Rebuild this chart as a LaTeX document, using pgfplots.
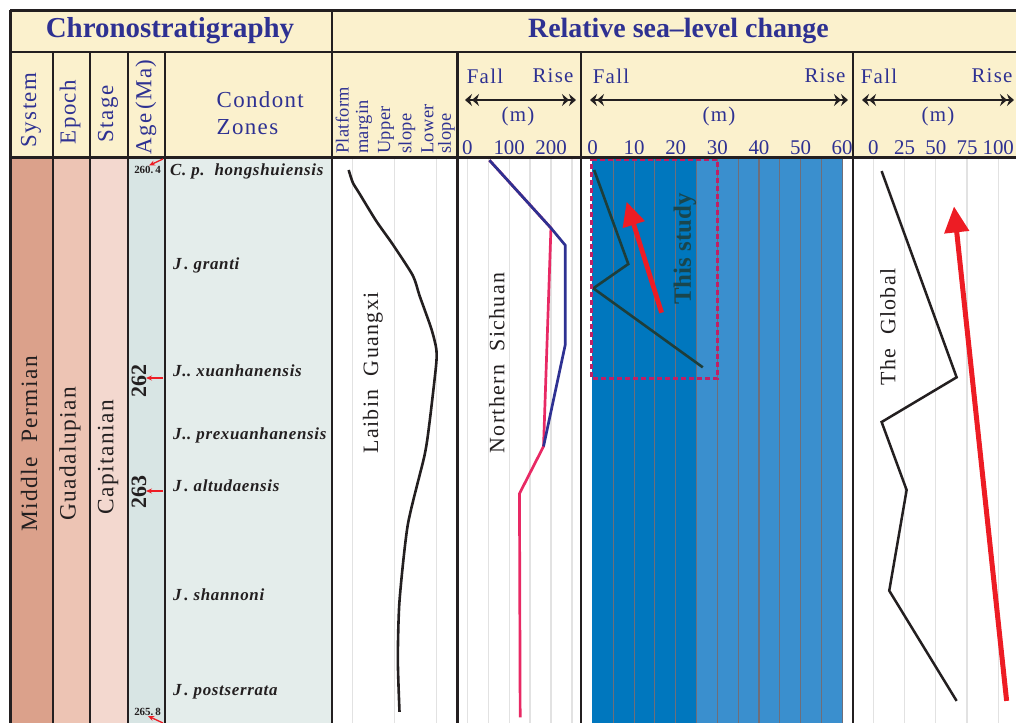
\documentclass[border=0pt]{standalone}
\usepackage{fontspec}
\setmainfont{Liberation Serif}
\newfontfamily\lsf{Liberation Serif}[LetterSpace=6]
\newfontfamily\zf{Liberation Serif}[LetterSpace=4]
\newfontfamily\pf{Liberation Serif}[LetterSpace=2]
\usepackage{pgfplots}
\usepackage{pgfplotstable}
\pgfplotsset{compat=1.18}
\usetikzlibrary{arrows.meta}
\definecolor{hdr}{RGB}{251,241,205}
\definecolor{hblue}{RGB}{46,49,146}
\definecolor{ink}{RGB}{35,31,32}
\definecolor{sysc}{RGB}{219,161,139}
\definecolor{epoc}{RGB}{237,196,180}
\definecolor{stgc}{RGB}{243,216,207}
\definecolor{agec}{RGB}{216,229,228}
\definecolor{zonc}{RGB}{228,237,235}
\definecolor{dblue}{RGB}{0,119,190}
\definecolor{lblue}{RGB}{58,143,206}
\definecolor{gline}{RGB}{110,110,122}
\definecolor{lgrid}{RGB}{226,226,226}
\definecolor{nsred}{RGB}{232,41,100}
\definecolor{nsblue}{RGB}{46,49,146}
\definecolor{arred}{RGB}{237,28,36}
\definecolor{boxc}{RGB}{192,32,100}
\definecolor{studyc}{RGB}{30,62,58}
\newcommand\fs[1]{\fontsize{#1}{#1}\selectfont}

% depth coordinate: 0 = top of the body, 565 = bottom of the picture
\pgfplotstableread{
x y
0.40 12
0.50 24.7
0.66 35.6
1.06 62.9
1.46 86.5
1.94 117.5
2.10 137.5
2.38 170.2
2.50 190.2
2.50 206.5
2.34 264.7
2.22 297.5
1.82 366.5
1.62 442.9
1.58 501
1.62 553.8
}\laibin
\pgfplotstableread{
x y
52.7 2.2
199.7 70
182 288.4
124.5 335.6
126.2 559.3
}\nspink
\pgfplotstableread{
x y
52.7 2.2
199.7 70
234 87.3
234 186.5
182 288.4
}\nsblue
\pgfplotstableread{
x y
0.4 12
8.6 106
0.2 130.3
26.5 209.3
}\study
\pgfplotstableread{
x y
6.7 13.1
66.7 219.3
6.7 264
26.7 332
12.8 432.7
66.7 542.9
}\glob

\pgfplotsset{panel/.style={scale only axis, height=565bp, ymin=0, ymax=565,
  y dir=reverse, ytick=\empty, axis line style={draw=none},
  major tick length=0pt, minor tick length=0pt,
  xticklabel pos=upper, xmajorgrids,
  grid style={lgrid, line width=1.3bp},
  anchor=north west,
  ticklabel style={font=\fs{21}, text=hblue},
  /pgf/number format/assume math mode=true}}
\tikzset{dbl/.style={arrows={Stealth[length=7bp,width=12bp]Stealth[length=7bp,width=12bp]-Stealth[length=7bp,width=12bp]Stealth[length=7bp,width=12bp]}, line width=2bp, ink},
  sma/.style={arred, line width=1.3bp, -{Stealth[length=6bp,width=5bp]}}}

\begin{document}
\begin{tikzpicture}
\useasboundingbox (0,0) rectangle (1016bp,-723bp);
\clip (0,0) rectangle (1016bp,-723bp);
\begin{scope}[x=1bp,y=-1bp]
\fill[hdr] (10,10) rectangle (1016,158);
\fill[sysc] (10,158) rectangle (53,723);
\fill[epoc] (53,158) rectangle (90,723);
\fill[stgc] (90,158) rectangle (128,723);
\fill[agec] (128,158) rectangle (165,723);
\fill[zonc] (165,158) rectangle (332,723);
\end{scope}

% Laibin Guangxi
\begin{axis}[panel, at={(332bp,-158bp)}, width=125bp, xmin=0, xmax=3,
  xtick={0.5,1.5,2.5}, xticklabels={,,}]
\addplot[ink, line width=2.6bp, smooth, tension=0.4] table {\laibin};
\end{axis}

% Northern Sichuan
\begin{axis}[panel, at={(457.5bp,-158bp)}, width=123.5bp, xmin=-23.5, xmax=271.5,
  xtick={0,100,200}, minor xtick={50,150,250}, xminorgrids,
  minor grid style={lgrid, line width=1.3bp}]
\addplot[nsred, line width=2.7bp] table {\nspink};
\addplot[nsblue, line width=2.7bp] table {\nsblue};
\end{axis}

% This study
\begin{axis}[panel, at={(581bp,-158bp)}, width=272bp, xmin=-2.76, xmax=62.6,
  xtick={0,10,...,60}, xmajorgrids=false]
\addplot[fill=dblue, draw=none] coordinates {(0,0.5) (25,0.5) (25,565) (0,565)} -- cycle;
\addplot[fill=lblue, draw=none] coordinates {(25,0.5) (60,0.5) (60,565) (25,565)} -- cycle;
\pgfplotsinvokeforeach{5,10,...,60}{\addplot[gline, line width=1.1bp] coordinates {(#1,0.5) (#1,565)};}
\addplot[studyc, line width=2.6bp] table {\study};
\addplot[boxc, line width=2.4bp, dash pattern=on 5bp off 3bp] coordinates {(-0.2,1.3) (30,1.3) (30,220.3) (-0.2,220.3)} -- cycle;
\addplot[arred, line width=4.8bp, -{Triangle[length=24bp,width=22bp]}] coordinates {(16.6,154.7) (8.2,43.7)};
\node[rotate=90, font=\fs{25}\bfseries, text=studyc, opacity=0.85] at (axis cs:22.2,91) {This study};
\end{axis}

% The Global
\begin{axis}[panel, at={(853bp,-158bp)}, width=163bp, xmin=-16.2, xmax=114.2,
  xtick={0,25,50,75,100}]
\addplot[ink, line width=2.5bp] table {\glob};
\addplot[arred, line width=5bp, -{Triangle[length=26bp,width=24bp]}] coordinates {(106.7,542.9) (64.6,48.4)};
\end{axis}

\begin{scope}[x=1bp,y=-1bp]
% frame lines
\begin{scope}[ink, line width=2.7bp]
\draw (10,10.5) -- (1016,10.5);
\draw (10,52) -- (1016,52);
\draw (10,157.5) -- (1016,157.5);
\draw (10.5,10) -- (10.5,723);
\foreach \x in {53,90,128,165,457.5,581,853} \draw (\x,52) -- (\x,723);
\draw (332,10) -- (332,723);
\end{scope}
% header row 1
\node[font=\fs{29}\bfseries, text=hblue] at (170,31) {Chronostratigraphy};
\node[font=\fs{28}\bfseries, text=hblue] at (678.5,31) {Relative sea--level change};
% header row 2
\begin{scope}[font=\lsf\fs{23}, text=hblue]
\node[rotate=90] at (31,110) {System};
\node[rotate=90] at (70,112) {Epoch};
\node[rotate=90] at (108,114) {Stage};
\node[rotate=90] at (146,107) {Age\,(Ma)};
\node[anchor=west, align=left, inner sep=0pt] at (216.5,113) {Condont\\[4bp]Zones};
\end{scope}
\begin{scope}[font=\pf\fs{18.5}, text=hblue, inner sep=0pt]
\node[rotate=90, anchor=west] at (342.3,154) {Platform};
\node[rotate=90, anchor=west] at (364,154) {margin};
\node[rotate=90, anchor=west] at (386,154) {Upper};
\node[rotate=90, anchor=west] at (407,154) {slope};
\node[rotate=90, anchor=west] at (427.5,154) {Lower};
\node[rotate=90, anchor=west] at (446.5,154) {slope};
\end{scope}
\begin{scope}[font=\lsf\fs{21}, text=hblue]
\node at (485,76) {Fall};
\node at (553,76) {Rise};
\node at (518,116) {(m)};
\node at (611,76) {Fall};
\node at (825,76) {Rise};
\node at (719,116) {(m)};
\node at (879,76) {Fall};
\node at (992,76) {Rise};
\node at (938,116) {(m)};
\end{scope}
\draw[dbl] (465,100) -- (576,100);
\draw[dbl] (590,100) -- (848,100);
\draw[dbl] (862,100) -- (1014,100);
% body column texts
\begin{scope}[font=\lsf\fs{23.5}, text=ink]
\node[rotate=90] at (29,444) {Middle\ \ Permian};
\node[rotate=90] at (70,454) {Guadalupian};
\node[rotate=90] at (108,457) {Capitanian};
\end{scope}
% ages
\node[font=\fs{11}\bfseries, text=ink] at (147.5,170) {260.\,4};
\node[font=\fs{11}\bfseries, text=ink] at (147.5,712) {265.\,8};
\node[font=\fs{22}\bfseries, text=ink, rotate=90] at (139,381) {262};
\node[font=\fs{22}\bfseries, text=ink, rotate=90] at (139,491.7) {263};
\draw[sma] (163,378) -- (146,378);
\draw[sma] (163,491) -- (146,491);
\draw[sma] (163,159) -- (149,165.5);
\draw[sma] (163,723) -- (148,716);
% conodont zones
\begin{scope}[font=\zf\fs{17}\bfseries\itshape, text=ink, inner sep=0pt]
\node[anchor=west] at (170,171.7) {C.\ p.\ \ hongshuiensis};
\node[anchor=west] at (173,265) {J\,.\ granti};
\node[anchor=west] at (173,370.7) {J..\ xuanhanensis};
\node[anchor=west] at (173,435) {J..\ prexuanhanensis};
\node[anchor=west] at (173,486) {J\,.\ altudaensis};
\node[anchor=west] at (173,595) {J\,.\ shannoni};
\node[anchor=west] at (173,691.7) {J\,.\ postserrata};
\end{scope}
% panel names
\begin{scope}[font=\lsf\fs{22}, text=ink]
\node[rotate=90] at (373,373) {Laibin\ \ Guangxi};
\node[rotate=90] at (497,363) {Northern\ \ Sichuan};
\node[rotate=90] at (888,327) {The\ \ Global};
\end{scope}
\end{scope}
\end{tikzpicture}
\end{document}
